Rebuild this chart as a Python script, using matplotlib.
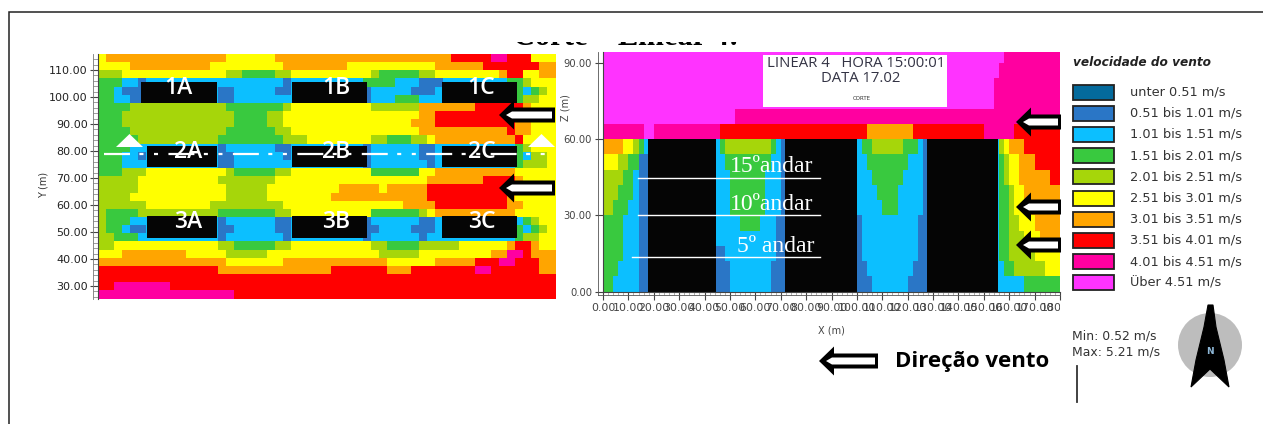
import matplotlib
matplotlib.use("Agg")
import matplotlib.pyplot as plt
import numpy as np
from matplotlib.colors import ListedColormap
from matplotlib.patches import Rectangle, Polygon, Circle
from matplotlib.transforms import Bbox

plt.rcParams['lines.scale_dashes'] = False
W, H = 1263, 424
CLASS_COLORS = ['#046a9c', '#2a76c6', '#0cbfff', '#39c93f', '#a6d60a', '#ffff00',
                '#ffa500', '#ff0000', '#ff00a0', '#ff33ff']
LEGEND_LABELS = ['unter 0.51 m/s', '0.51 bis 1.01 m/s', '1.01 bis 1.51 m/s', '1.51 bis 2.01 m/s',
                 '2.01 bis 2.51 m/s', '2.51 bis 3.01 m/s', '3.01 bis 3.51 m/s', '3.51 bis 4.01 m/s',
                 '4.01 bis 4.51 m/s', 'Über 4.51 m/s']

# plan view, wind-speed class per cell, run-length coded "class:count", top row first
PLAN_ROWS = [
 "5:1 6:15 5:6 6:22 7:5 8:2 7:3 5:3",
 "5:4 6:10 5:9 6:8 5:11 6:6 7:7 6:2",
 "4:3 5:13 4:2 3:4 4:2 5:10 4:1 3:5 4:2 5:8 6:1 7:2 5:2 6:2",
 "3:3 2:2 1:1 2:17 1:1 2:9 3:4 2:3 1:3 2:8 3:2 4:1 5:3",
 "3:2 2:1 1:3 2:9 1:2 2:5 1:2 2:9 1:1 2:5 1:3 2:10 3:1 2:1 3:1 4:1 5:1",
 "3:2 2:2 1:2 2:9 1:2 2:7 2:9 1:1 2:3 3:3 2:2 2:10 3:1 4:2 5:2",
 "3:4 4:12 3:7 4:1 5:10 4:6 6:7 7:6 6:1 5:3",
 "3:3 4:14 3:4 4:2 5:17 6:2 7:11 6:1 5:3",
 "3:3 4:14 3:4 4:2 5:16 6:3 7:10 6:2 5:3",
 "3:4 4:12 3:6 4:2 5:16 6:11 7:1 6:2 5:3",
 "3:5 4:10 3:8 4:3 5:8 4:2 3:3 4:2 5:1 6:10 7:1 5:4",
 "3:4 2:2 2:9 1:1 2:6 1:2 2:9 1:1 2:6 1:2 2:10 3:1 4:1 5:3",
 "3:3 2:2 1:1 2:9 1:2 2:6 1:1 2:9 1:1 2:6 1:2 2:10 3:1 2:1 4:2 5:1",
 "3:3 2:3 2:9 1:2 2:7 2:9 1:1 2:7 1:1 2:10 3:1 4:3 5:1",
 "3:3 4:3 5:10 4:1 3:5 4:2 5:10 3:6 5:2 6:10 5:5",
 "4:5 5:10 4:7 5:19 6:7 7:4 6:1 5:4",
 "4:5 5:11 4:5 5:9 6:5 5:1 6:5 7:10 6:1 5:5",
 "4:4 5:12 4:5 5:8 6:12 7:10 6:1 5:5",
 "4:6 5:8 4:9 5:15 6:4 7:9 6:2 5:4",
 "4:1 3:4 4:10 3:7 4:2 5:10 3:6 4:1 5:1 6:10 5:5",
 "4:1 3:3 2:2 2:9 1:1 2:6 1:2 2:9 1:1 2:6 1:2 2:10 2:1 3:1 4:1 5:2",
 "4:1 3:2 2:1 1:2 2:9 1:2 2:5 1:2 2:9 1:2 2:4 1:3 2:10 3:1 2:1 3:1 4:1 5:1",
 "4:2 3:3 2:1 2:9 1:1 2:7 1:1 2:9 1:1 2:6 1:1 2:1 2:10 3:1 4:2 5:2",
 "4:2 5:13 4:2 3:5 4:2 5:10 4:2 3:4 4:5 5:6 6:1 7:2 6:1 5:2",
 "5:3 6:8 5:5 4:5 5:14 4:5 5:9 6:2 8:2 7:1 6:3",
 "6:16 5:7 6:13 5:6 6:5 7:3 8:2 7:3 6:2",
 "7:15 6:14 7:7 6:3 7:8 8:2 7:6 6:2",
 "7:57",
 "7:2 8:7 7:48",
 "8:17 7:40",
]
# section view, same coding, top row first
SECTION_ROWS = [
 "9:79 8:11",
 "9:78 8:12",
 "9:77 8:13",
 "9:77 8:13",
 "9:26 8:64",
 "8:8 9:2 8:13 7:29 6:9 7:14 8:6 7:9",
 "6:4 5:2 4:1 3:1 2:1 2:14 3:1 4:9 3:1 2:1 1:1 2:14 2:1 3:2 4:6 3:3 2:1 1:1 2:14 4:1 5:1 6:3 7:7",
 "5:3 4:2 3:2 1:2 2:13 2:2 3:9 2:2 1:1 2:14 2:2 3:8 2:3 1:1 2:14 3:1 4:1 5:2 6:3 7:5",
 "4:4 3:2 2:1 1:2 2:13 2:3 3:7 2:3 1:1 2:14 2:3 3:6 2:4 1:1 2:14 3:1 4:1 5:2 6:6 7:2",
 "4:3 3:3 2:1 1:2 2:13 2:3 3:7 2:3 1:1 2:14 2:4 3:4 2:5 1:1 2:14 3:2 4:1 5:2 6:7",
 "4:2 3:3 2:2 1:2 2:13 2:3 3:7 2:3 1:1 2:14 2:5 3:3 2:5 1:1 2:14 3:2 4:1 5:3 6:6",
 "3:4 2:3 1:2 2:13 2:5 3:4 2:3 1:2 2:14 1:1 2:11 1:2 2:14 3:2 4:2 5:3 6:5",
 "3:4 2:3 1:2 2:13 2:12 1:2 2:14 1:1 2:11 1:2 2:14 3:2 4:3 5:3 6:4",
 "3:4 2:3 1:2 2:13 1:2 2:10 1:2 2:14 1:1 2:11 1:2 2:14 3:2 4:5 5:5",
 "3:3 2:4 1:2 2:13 1:3 2:8 1:3 2:14 1:2 2:9 1:3 2:14 2:1 3:2 4:6 5:3",
 "3:2 2:5 1:2 2:13 1:3 2:8 1:3 2:14 1:3 2:7 1:4 2:14 2:5 3:7",
]
PLAN_BUILD_X = [(16.0, 44.2), (72.1, 100.0), (127.9, 155.8)]
PLAN_BUILD_X2 = [(18.2, 44.2), (72.1, 100.0), (127.9, 155.8)]
PLAN_BUILD_Y = [(97.8, 105.6), (74.1, 81.9), (47.8, 55.9)]
SECTION_BUILD_X = [(17.8, 44.5), (71.5, 100.0), (127.6, 155.7)]
BUILD_TOP = 60
PLAN_LABELS = [['1A', '1B', '1C'], ['2A', '2B', '2C'], ['3A', '3B', '3C']]
PLAN_LABEL_X = [[29.7, 88.6, 142.5], [33.4, 88.6, 142.5], [33.4, 88.6, 142.5]]
PLAN_LABEL_Y = [103.5, 79.8, 53.8]
PLAN_YTICKS = [30, 40, 50, 60, 70, 80, 90, 100, 110]
SECTION_XTICKS = list(range(0, 190, 10))
SECTION_ZTICKS = [0, 30, 60, 90]


def decode(rows, width):
    out = []
    for r in rows:
        vals = []
        for tok in r.split():
            c, n = tok.split(':')
            vals += [int(c)] * int(n)
        assert len(vals) == width, (r, len(vals))
        out.append(vals)
    return np.array(out)


def px_axes(fig, x0, y0, x1, y1):
    return fig.add_axes([x0 / W, 1 - y1 / H, (x1 - x0) / W, (y1 - y0) / H])


fig = plt.figure(figsize=(W / 100, H / 100), dpi=100, facecolor='white')
cmap = ListedColormap(CLASS_COLORS)
GREY = '#444444'

# plan map -------------------------------------------------------------
ax = px_axes(fig, 98, 54, 555.5, 298.5)
plan = decode(PLAN_ROWS, 57)
ax.set_xlim(0, 170)
ax.set_ylim(25.4, 115.9)
xe = np.linspace(0, 170, plan.shape[1] + 1)
ye = np.linspace(115.9, 25.4, plan.shape[0] + 1)
ax.pcolormesh(xe, ye, plan, cmap=cmap, vmin=-0.5, vmax=9.5, rasterized=True)
for i, (yb, xs) in enumerate(zip(PLAN_BUILD_Y, [PLAN_BUILD_X, PLAN_BUILD_X2, PLAN_BUILD_X2])):
    for j, (a, b) in enumerate(xs):
        ax.add_patch(Rectangle((a, yb[0]), b - a, yb[1] - yb[0], fc='#050505', ec='none', zorder=2))
        ax.text(PLAN_LABEL_X[i][j], PLAN_LABEL_Y[i], PLAN_LABELS[i][j], color='white',
                fontsize=16.5, family='Open Sans', weight='semibold', ha='center', va='center', zorder=3)
for s in ['top', 'right', 'bottom']:
    ax.spines[s].set_visible(False)
ax.spines['left'].set_color(GREY)
ax.spines['left'].set_linewidth(0.8)
ax.set_xticks([])
ax.set_yticks(PLAN_YTICKS)
ax.set_yticklabels([f'{v:.2f}' for v in PLAN_YTICKS], fontsize=8, color='#222222')
ax.set_yticks(np.arange(26, 116, 2), minor=True)
ax.tick_params(axis='y', which='major', length=5.8, width=0.8, color=GREY, pad=1.5)
ax.tick_params(axis='y', which='minor', length=3.6, width=0.5, color='#777777')
ax.set_ylabel('Y (m)', fontsize=7, color='#333333')
ax.yaxis.set_label_coords(-0.109, 0.464)

# section map ----------------------------------------------------------
ax2 = px_axes(fig, 603, 52, 1060, 291.5)
sec = decode(SECTION_ROWS, 90)
ax2.set_xlim(0, 180)
ax2.set_ylim(0, 94.4)
xe2 = np.linspace(0, 180, sec.shape[1] + 1)
ze2 = np.arange(sec.shape[0], -1, -1) * 6.0
ax2.pcolormesh(xe2, ze2, sec, cmap=cmap, vmin=-0.5, vmax=9.5, rasterized=True)
for a, b in SECTION_BUILD_X:
    ax2.add_patch(Rectangle((a, 0), b - a, BUILD_TOP, fc='#050505', ec='none', zorder=2))
for s in ['top', 'right']:
    ax2.spines[s].set_visible(False)
for s in ['left', 'bottom']:
    ax2.spines[s].set_color(GREY)
    ax2.spines[s].set_linewidth(0.8)
ax2.set_xticks(SECTION_XTICKS)
ax2.set_xticklabels([f'{v:.2f}' for v in SECTION_XTICKS], fontsize=7.9, color='#444444')
ax2.set_yticks(SECTION_ZTICKS)
ax2.set_yticklabels([f'{v:.2f}' for v in SECTION_ZTICKS], fontsize=7.2, color='#444444')
ax2.set_xticks(np.arange(0, 181, 2), minor=True)
ax2.tick_params(axis='both', which='major', length=6, width=0.8, color=GREY, pad=2)
ax2.tick_params(axis='x', which='minor', length=2.5, width=0.4, color='#777777')
ax2.set_xlabel('X (m)', fontsize=7, color='#444444', labelpad=9)
ax2.set_ylabel('Z (m)', fontsize=7, color='#444444')
ax2.yaxis.set_label_coords(-0.072, 0.77)
clip = Bbox([[0, 0], [1060, H]])
for t in ax2.get_xticklabels():
    t.set_clip_box(clip)
    t.set_clip_on(True)

# overlay in pixel coordinates ----------------------------------------
ov = fig.add_axes([0, 0, 1, 1], zorder=10)
ov.set_xlim(0, W)
ov.set_ylim(H, 0)
ov.axis('off')
ov.patch.set_alpha(0)

# frame
ov.plot([8.5, 8.5, W], [H, 11.5, 11.5], color='#222222', lw=1.1, solid_joinstyle='miter')

# axis double rules
ov.plot([93, 93], [54, 298.5], color='#777777', lw=0.6)
ov.plot([598, 598], [52, 295], color='#555555', lw=0.6)
ov.plot([598, 1060], [295, 295], color='#555555', lw=0.6)

# cut title: only its lowest part shows in the reference
ov.text(625.5, 45, 'Corte – Linear 4:', family='Liberation Serif', weight='bold', fontsize=22,
        ha='center', va='baseline', color='black', zorder=1)
ov.add_patch(Rectangle((480, 14), 300, 27.5, fc='white', ec='none', zorder=20))

# white section line and triangles
ov.plot([103.5, 555], [154.3, 154.3], color='white', lw=1.6,
        linestyle=(0, (18.7, 6.8, 2.9, 7.6, 2.9, 7.5)))
for cx in [129.5, 541.5]:
    ov.add_patch(Polygon([[cx, 134], [cx - 13.5, 147], [cx + 13.5, 147]], fc='white', ec='none'))


def wind_arrow(tip_x, y, end_x):
    ov.add_patch(Polygon([[tip_x, y], [tip_x + 15, y - 14.5], [tip_x + 15, y - 7.5], [end_x, y - 7.5],
                          [end_x, y + 7.5], [tip_x + 15, y + 7.5], [tip_x + 15, y + 14.5]],
                         fc='black', ec='none', zorder=5))
    ov.add_patch(Polygon([[tip_x + 7, y], [tip_x + 13, y - 3.5], [end_x - 3, y - 3.5], [end_x - 3, y + 3.5],
                          [tip_x + 13, y + 3.5]], fc='white', ec='none', zorder=6))


for tip, y, end in [(499, 115, 555), (499, 188, 555), (1016, 122, 1061), (1016, 207, 1061),
                    (1016, 245, 1061), (819, 361, 878)]:
    wind_arrow(tip, y, end)

# header box in section
ov.add_patch(Rectangle((763, 55), 184, 52, fc='white', ec='none'))
ov.text(856.5, 63.5, 'LINEAR 4   HORA 15:00:01', fontsize=10.7, family='Open Sans', color='#333344',
        ha='center', va='center')
ov.text(861, 79, 'DATA 17.02', fontsize=10.7, family='Open Sans', color='#333344', ha='center', va='center')
ov.text(862, 99, 'CORTE', fontsize=4, family='DejaVu Sans', color='#333333', ha='center', va='center')

# floor annotations
for label, tx, ty, x0, yl in [('15ºandar', 772, 167, 638, 178), ('10ºandar', 772, 205, 638, 215),
                              ('5º andar', 776, 247, 632, 257)]:
    ov.text(tx, ty, label, family='Liberation Serif', fontsize=17, color='white', ha='center', va='center')
    ov.plot([x0, 820], [yl, yl], color='white', lw=1.0)

# legend
ov.text(1073, 63, 'velocidade do vento', fontsize=8.7, style='italic', weight='bold', color='#222222',
        ha='left', va='center', family='DejaVu Sans')
for i, (c, lab) in enumerate(zip(CLASS_COLORS, LEGEND_LABELS)):
    yc = 92 + i * 21.2
    ov.add_patch(Rectangle((1072.5, yc - 7.5), 41, 15, fc=c, ec='#222222', lw=1.3))
    ov.text(1130, yc, lab, fontsize=9.3, color='#333333', ha='left', va='center')

# min / max, bar, north arrow
ov.text(1072, 336, 'Min: 0.52 m/s', fontsize=8.9, color='#333333', ha='left', va='center')
ov.text(1072, 352, 'Max: 5.21 m/s', fontsize=8.9, color='#333333', ha='left', va='center')
ov.plot([1077, 1077], [366, 402], color='#333333', lw=1.3)
ov.add_patch(Circle((1210, 345), 32, fc='#bdbdbd', ec='none'))
ov.add_patch(Polygon([[1208, 305], [1213, 305], [1216, 327], [1224, 360], [1229, 387], [1210, 369],
                      [1191, 387], [1196, 360], [1204, 327]], fc='black', ec='black', lw=0.8))
ov.text(1210, 351, 'N', fontsize=6.5, weight='bold', color='#8fb8d8', ha='center', va='center')

# wind direction caption
ov.text(895, 362, 'Direção vento', fontsize=16, weight='bold', family='Open Sans', color='black',
        ha='left', va='center')

fig.savefig('out.png', dpi=100, facecolor='white')
